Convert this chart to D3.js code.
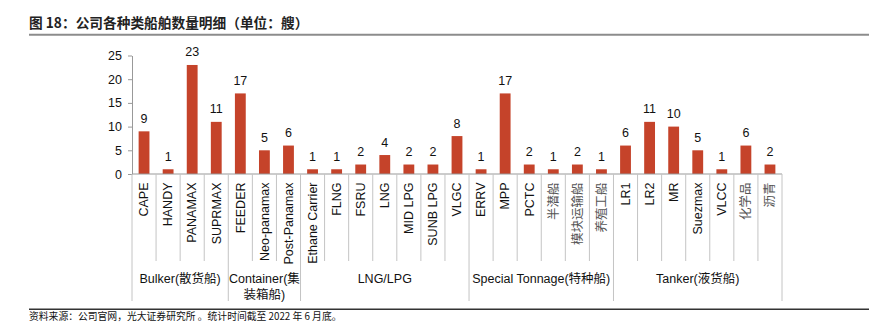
<!DOCTYPE html>
<html><head><meta charset="utf-8">
<script src="https://cdn.jsdelivr.net/npm/d3@7"></script>
<style>
body{margin:0;background:#fff;}
svg{display:block;}
</style></head>
<body>
<svg id="chart" width="875" height="325"></svg>
<script>
const categories = ["CAPE","HANDY","PANAMAX","SUPRMAX","FEEDER","Neo-panamax","Post-Panamax","Ethane Carrier","FLNG","FSRU","LNG","MID LPG","SUNB LPG","VLGC","ERRV","MPP","PCTC","半潜船","模块运输船","养殖工船","LR1","LR2","MR","Suezmax","VLCC","化学品","沥青"];
const values = [9,1,23,11,17,5,6,1,1,2,4,2,2,8,1,17,2,1,2,1,6,11,10,5,1,6,2];
const groups = [
  {name:["Bulker(散货船)"], start:0, end:4},
  {name:["Container(集","装箱船)"], start:4, end:7},
  {name:["LNG/LPG"], start:7, end:14},
  {name:["Special Tonnage(特种船)"], start:14, end:20},
  {name:["Tanker(液货船)"], start:20, end:27}
];
const yTicks = [0,5,10,15,20,25];
const title = "图 18：公司各种类船舶数量明细（单位：艘）";
const source = "资料来源：公司官网，光大证券研究所 。统计时间截至 2022 年 6 月底。";

const svg = d3.select("#chart");
const font = "'Liberation Sans', Arial, 'Noto Sans CJK SC', sans-serif";
const cjk = "'Noto Sans CJK SC', sans-serif";

const x0 = 132, x1 = 782, yBase = 174, yTop = 55.5;
const x = d3.scaleBand().domain(categories).range([x0, x1]).paddingInner(0.55).paddingOuter(0.275);
const step = x.step();
const y = d3.scaleLinear().domain([0,25]).range([yBase, yTop]);

// title
svg.append("text").attr("x", 29).attr("y", 28)
  .attr("font-family", cjk).attr("font-weight", "bold").attr("font-size", 13.7)
  .attr("fill", "#222").text(title);
svg.append("line").attr("x1", 29).attr("x2", 869).attr("y1", 34.7).attr("y2", 34.7)
  .attr("stroke", "#8c8c8c").attr("stroke-width", 2);

// bars
svg.append("g").selectAll("rect").data(values).join("rect")
  .attr("x", (d,i) => x(categories[i]))
  .attr("width", x.bandwidth())
  .attr("y", d => y(d))
  .attr("height", d => yBase - y(d))
  .attr("fill", "#C5432A");

// value labels
svg.append("g").selectAll("text").data(values).join("text")
  .attr("x", (d,i) => x(categories[i]) + x.bandwidth()/2)
  .attr("y", d => y(d) - 8.5)
  .attr("text-anchor", "middle")
  .attr("font-family", font).attr("font-size", 12.5).attr("fill", "#111")
  .text(d => d);

// y axis
const yAxis = svg.append("g").attr("transform", `translate(${x0},0)`)
  .call(d3.axisLeft(y).tickValues(yTicks).tickSize(4).tickPadding(6).tickSizeOuter(0));
yAxis.select(".domain").attr("stroke", "#999");
yAxis.selectAll(".tick line").attr("stroke", "#999");
yAxis.selectAll(".tick text").attr("font-family", font).attr("font-size", 12.5).attr("fill", "#111");

// x axis baseline
svg.append("line").attr("x1", x0).attr("x2", x1).attr("y1", yBase).attr("y2", yBase)
  .attr("stroke", "#999").attr("stroke-width", 1);

// category separators
const boundaries = d3.range(categories.length + 1);
const groupEdges = new Set(groups.flatMap(g => [g.start, g.end]));
svg.append("g").selectAll("line").data(boundaries).join("line")
  .attr("x1", i => x0 + i*step).attr("x2", i => x0 + i*step)
  .attr("y1", yBase).attr("y2", i => groupEdges.has(i) ? 301 : 261)
  .attr("stroke", "#c4c4c4").attr("stroke-width", 1);

// category labels
svg.append("g").selectAll("text").data(categories).join("text")
  .attr("transform", d => `translate(${x(d) + x.bandwidth()/2 + 4.3},182.5) rotate(-90)`)
  .attr("text-anchor", "end")
  .attr("font-family", d => /[\u4e00-\u9fff]/.test(d) ? cjk : font)
  .attr("font-size", 12.5)
  .attr("fill", d => /[\u4e00-\u9fff]/.test(d) ? "#555" : "#111")
  .text(d => d);

// group labels
const gl = svg.append("g").selectAll("text").data(groups).join("text")
  .attr("x", g => x0 + (g.start + g.end)/2 * step)
  .attr("y", 282.5)
  .attr("text-anchor", "middle")
  .attr("font-family", font).attr("font-size", 12.5).attr("fill", "#111");
gl.selectAll("tspan").data(g => g.name.map(n => ({n, cx: x0 + (g.start + g.end)/2 * step}))).join("tspan")
  .attr("x", d => d.cx)
  .attr("dy", (d,i) => i === 0 ? 0 : 16)
  .text(d => d.n);

// bottom rule and source
svg.append("line").attr("x1", 29).attr("x2", 869).attr("y1", 309.3).attr("y2", 309.3)
  .attr("stroke", "#333").attr("stroke-width", 1.4);
svg.append("text").attr("x", 29).attr("y", 319.5)
  .attr("font-family", cjk).attr("font-size", 9.8).attr("fill", "#111").text(source);
</script>
</body></html>
